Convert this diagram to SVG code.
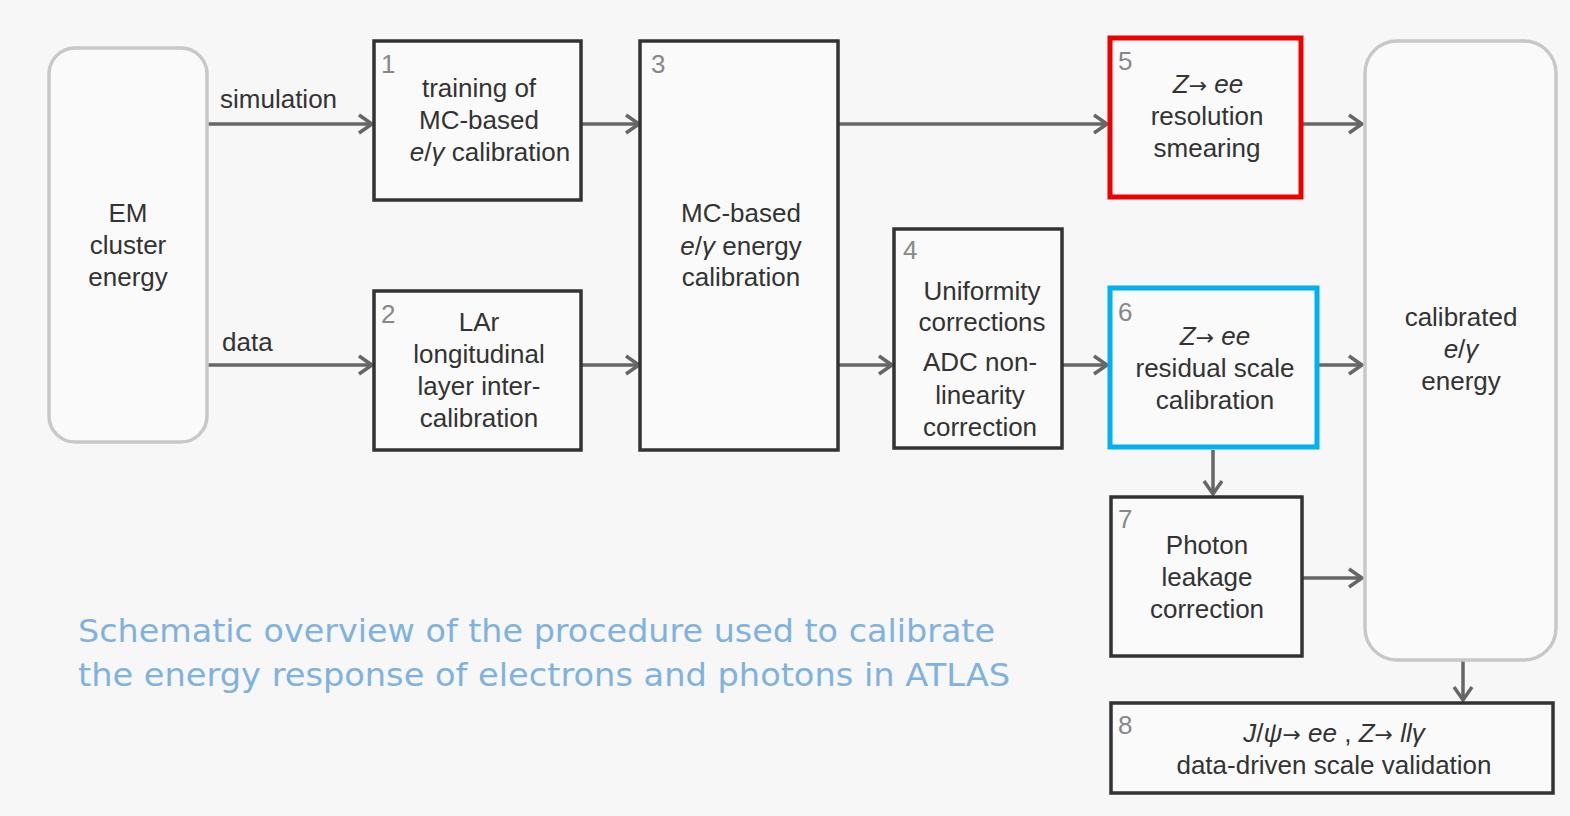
<svg xmlns="http://www.w3.org/2000/svg" width="1570" height="816" viewBox="0 0 1570 816">
<style>
.box{fill:#fafafa;stroke:#333;stroke-width:3.5}
.rbox{fill:#fafafa;stroke:#c8c8c8;stroke-width:3.5}
.t{font-family:"Liberation Sans",Arial,sans-serif;font-size:26px;fill:#333;text-anchor:middle}
.n{font-family:"Liberation Sans",Arial,sans-serif;font-size:26px;fill:#888}
.lbl{font-family:"Liberation Sans",Arial,sans-serif;font-size:26px;fill:#333}
.i{font-style:italic}
.ar{font-family:"DejaVu Sans",sans-serif;font-size:22px}
.cap{font-family:"Comic Sans MS","DejaVu Sans",sans-serif;font-size:32px;fill:#7fb2de}
.c{stroke:#666;stroke-width:3.5;fill:none;marker-end:url(#ah)}
</style>
<defs>
<marker id="ah" markerUnits="userSpaceOnUse" markerWidth="22" markerHeight="24" refX="16" refY="11" orient="auto">
<path d="M3,2 L16,11 L3,20" fill="none" stroke="#666" stroke-width="3.5"/>
</marker>
</defs>
<rect width="1570" height="816" fill="#f7f7f7"/>
<g id="connectors">
<path class="c" d="M207,124 H372"/>
<path class="c" d="M207,365 H372"/>
<path class="c" d="M581,124 H639"/>
<path class="c" d="M581,365 H639"/>
<path class="c" d="M838,124 H1107"/>
<path class="c" d="M838,365 H892"/>
<path class="c" d="M1062,365 H1107"/>
<path class="c" d="M1302,124 H1362"/>
<path class="c" d="M1318,365 H1362"/>
<path class="c" d="M1213,450 V494"/>
<path class="c" d="M1302,578 H1362"/>
<path class="c" d="M1463,660 V700"/>
<text class="lbl" x="220" y="108">simulation</text>
<text class="lbl" x="222" y="351">data</text>
</g>
<g id="em">
<rect class="rbox" x="49" y="48" width="158" height="394" rx="26"/>
<text class="t" x="128" y="222">EM</text>
<text class="t" x="128" y="254">cluster</text>
<text class="t" x="128" y="286">energy</text>
</g>
<g id="n1">
<rect class="box" x="374" y="41" width="207" height="159"/>
<text class="n" x="381" y="73">1</text>
<text class="t" x="479" y="97">training of</text>
<text class="t" x="479" y="129">MC-based</text>
<text class="t" x="490" y="161"><tspan class="i">e</tspan>/<tspan class="i">γ</tspan> calibration</text>
</g>
<g id="n2">
<rect class="box" x="374" y="291" width="207" height="159"/>
<text class="n" x="381" y="323">2</text>
<text class="t" x="479" y="331">LAr</text>
<text class="t" x="479" y="363">longitudinal</text>
<text class="t" x="479" y="395">layer inter-</text>
<text class="t" x="479" y="427">calibration</text>
</g>
<g id="n3">
<rect class="box" x="640" y="41" width="198" height="409"/>
<text class="n" x="651" y="73">3</text>
<text class="t" x="741" y="222">MC-based</text>
<text class="t" x="741" y="255"><tspan class="i">e</tspan>/<tspan class="i">γ</tspan> energy</text>
<text class="t" x="741" y="286">calibration</text>
</g>
<g id="n4">
<rect class="box" x="894" y="229" width="168" height="219"/>
<text class="n" x="903" y="259">4</text>
<text class="t" x="982" y="300">Uniformity</text>
<text class="t" x="982" y="331">corrections</text>
<text class="t" x="980" y="371">ADC non-</text>
<text class="t" x="980" y="404">linearity</text>
<text class="t" x="980" y="436">correction</text>
</g>
<g id="n5">
<rect class="box" x="1110" y="38" width="191" height="159" style="stroke:#ee0000;stroke-width:5"/>
<text class="n" x="1118" y="70">5</text>
<text class="t" x="1208" y="93"><tspan class="i">Z</tspan><tspan class="ar">→</tspan> <tspan class="i">ee</tspan></text>
<text class="t" x="1207" y="125">resolution</text>
<text class="t" x="1207" y="157">smearing</text>
</g>
<g id="n6">
<rect class="box" x="1110" y="288" width="207" height="159" style="stroke:#00b0ef;stroke-width:5"/>
<text class="n" x="1118" y="321">6</text>
<text class="t" x="1215" y="345"><tspan class="i">Z</tspan><tspan class="ar">→</tspan> <tspan class="i">ee</tspan></text>
<text class="t" x="1215" y="377">residual scale</text>
<text class="t" x="1215" y="409">calibration</text>
</g>
<g id="n7">
<rect class="box" x="1111" y="497" width="191" height="159"/>
<text class="n" x="1118" y="528">7</text>
<text class="t" x="1207" y="554">Photon</text>
<text class="t" x="1207" y="586">leakage</text>
<text class="t" x="1207" y="618">correction</text>
</g>
<g id="calibrated">
<rect class="rbox" x="1365" y="41" width="191" height="619" rx="32"/>
<text class="t" x="1461" y="326">calibrated</text>
<text class="t" x="1461" y="358"><tspan class="i">e</tspan>/<tspan class="i">γ</tspan></text>
<text class="t" x="1461" y="390">energy</text>
</g>
<g id="n8">
<rect class="box" x="1111" y="703" width="442" height="90"/>
<text class="n" x="1118" y="734">8</text>
<text class="t" x="1334" y="742"><tspan class="i">J</tspan>/<tspan class="i">ψ</tspan><tspan class="ar">→</tspan> <tspan class="i">ee</tspan> , <tspan class="i">Z</tspan><tspan class="ar">→</tspan> <tspan class="i">llγ</tspan></text>
<text class="t" x="1334" y="774">data-driven scale validation</text>
</g>
<g id="caption">
<text class="cap" x="78" y="642" textLength="917" lengthAdjust="spacingAndGlyphs">Schematic overview of the procedure used to calibrate</text>
<text class="cap" x="78" y="686" textLength="932" lengthAdjust="spacingAndGlyphs">the energy response of electrons and photons in ATLAS</text>
</g>
</svg>
